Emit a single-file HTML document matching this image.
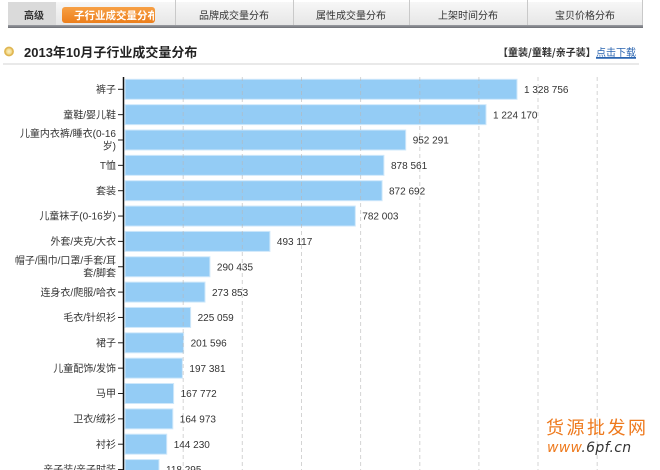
<!DOCTYPE html>
<html><head><meta charset="utf-8"><style>
html,body{margin:0;padding:0;background:#fff;}
body{width:660px;height:470px;overflow:hidden;position:relative;font-family:"Liberation Sans","Noto Sans CJK SC",sans-serif;}
svg{position:absolute;left:0;top:0;}
</style></head><body>
<svg width="660" height="470" viewBox="0 0 660 470" xmlns="http://www.w3.org/2000/svg" font-family="Liberation Sans, Noto Sans CJK SC, sans-serif">
<defs>
<linearGradient id="tabbg" x1="0" y1="0" x2="0" y2="1">
<stop offset="0" stop-color="#f7f7f7"/><stop offset="1" stop-color="#e6e6e6"/>
</linearGradient>
<linearGradient id="tabbot" x1="0" y1="0" x2="0" y2="1">
<stop offset="0" stop-color="#9a9ca2"/><stop offset="1" stop-color="#6d6f75"/>
</linearGradient>
<linearGradient id="orng" x1="0" y1="0" x2="0" y2="1">
<stop offset="0" stop-color="#f7a045"/><stop offset="1" stop-color="#ec7f1c"/>
</linearGradient>
<radialGradient id="dot" cx="0.5" cy="0.5" r="0.5">
<stop offset="0" stop-color="#fbf0c8"/><stop offset="0.5" stop-color="#f3dc90"/><stop offset="0.8" stop-color="#dcae45"/><stop offset="1" stop-color="#e8c978"/>
</radialGradient>
</defs>
<!-- Tab bar -->
<rect x="8" y="2" width="635" height="23" fill="url(#tabbg)"/>
<rect x="8" y="2" width="48" height="23" fill="#dadada"/>
<rect x="8" y="25" width="635" height="3" fill="url(#tabbot)"/>
<g stroke="#c9c9c9" stroke-width="1">
<line x1="175.5" y1="0" x2="175.5" y2="25"/>
<line x1="293.5" y1="0" x2="293.5" y2="25"/>
<line x1="409.5" y1="0" x2="409.5" y2="25"/>
<line x1="527.5" y1="0" x2="527.5" y2="25"/>
<line x1="642.5" y1="0" x2="642.5" y2="25"/>
</g>
<text x="24" y="19" font-size="10" fill="#333" font-weight="bold" font-family="Noto Sans CJK SC, sans-serif">高级</text>
<rect x="62" y="7" width="93" height="16" rx="3" fill="url(#orng)"/>
<svg x="62" y="7" width="92" height="16"><text x="12" y="12" font-size="10.5" fill="#fff" font-weight="bold" font-family="Noto Sans CJK SC, sans-serif">子行业成交量分布</text></svg>
<g font-size="10" fill="#333" text-anchor="middle" font-family="Noto Sans CJK SC, sans-serif">
<text x="234" y="19">品牌成交量分布</text>
<text x="351" y="19">属性成交量分布</text>
<text x="468" y="19">上架时间分布</text>
<text x="585" y="19">宝贝价格分布</text>
</g>
<!-- Title -->
<circle cx="9" cy="51.5" r="5" fill="url(#dot)"/>
<text x="24" y="57" font-size="13" font-weight="bold" fill="#222" font-family="Liberation Sans, Noto Sans CJK SC, sans-serif">2013年10月子行业成交量分布</text>
<text x="498" y="56" font-size="10" fill="#333" font-weight="bold" font-family="Noto Sans CJK SC, sans-serif">【童装/童鞋/亲子装】</text>
<text x="596" y="56" font-size="10" fill="#2a64b0" font-family="Noto Sans CJK SC, sans-serif" text-decoration="underline">点击下载</text>
<line x1="596" y1="58.5" x2="636" y2="58.5" stroke="#2a64b0" stroke-width="0.8"/>
<line x1="3" y1="64" x2="639" y2="64" stroke="#dcdcdc" stroke-width="1.2"/>
<!-- Bars -->
<g fill="#94ccf5" stroke="#cfe8fb" stroke-width="1">
<rect x="125" y="79.3" width="392" height="20"/>
<rect x="125" y="104.65" width="361" height="20"/>
<rect x="125" y="130" width="280.7" height="20"/>
<rect x="125" y="155.35" width="258.9" height="20"/>
<rect x="125" y="180.7" width="257.1" height="20"/>
<rect x="125" y="206.05" width="230.3" height="20"/>
<rect x="125" y="231.4" width="144.9" height="20"/>
<rect x="125" y="256.75" width="84.9" height="20"/>
<rect x="125" y="282.1" width="80" height="20"/>
<rect x="125" y="307.45" width="65.6" height="20"/>
<rect x="125" y="332.8" width="58.6" height="20"/>
<rect x="125" y="358.15" width="57.4" height="20"/>
<rect x="125" y="383.5" width="48.6" height="20"/>
<rect x="125" y="408.85" width="47.8" height="20"/>
<rect x="125" y="434.2" width="41.7" height="20"/>
<rect x="125" y="459.55" width="34" height="20"/>
</g>
<!-- Gridlines -->
<g stroke="#b8b8b8" stroke-width="1" stroke-dasharray="4,3" opacity="0.6">
<line x1="183.2" y1="77" x2="183.2" y2="470"/>
<line x1="242.3" y1="77" x2="242.3" y2="470"/>
<line x1="301.5" y1="77" x2="301.5" y2="470"/>
<line x1="360.6" y1="77" x2="360.6" y2="470"/>
<line x1="419.8" y1="77" x2="419.8" y2="470"/>
<line x1="478.9" y1="77" x2="478.9" y2="470"/>
<line x1="538" y1="77" x2="538" y2="470"/>
<line x1="597.2" y1="77" x2="597.2" y2="470"/>
</g>
<!-- Axis -->
<line x1="123.5" y1="77" x2="123.5" y2="470" stroke="#111" stroke-width="1.5"/>
<g stroke="#222" stroke-width="1">
<line x1="118" y1="89.3" x2="123" y2="89.3"/>
<line x1="118" y1="114.65" x2="123" y2="114.65"/>
<line x1="118" y1="140" x2="123" y2="140"/>
<line x1="118" y1="165.35" x2="123" y2="165.35"/>
<line x1="118" y1="190.7" x2="123" y2="190.7"/>
<line x1="118" y1="216.05" x2="123" y2="216.05"/>
<line x1="118" y1="241.4" x2="123" y2="241.4"/>
<line x1="118" y1="266.75" x2="123" y2="266.75"/>
<line x1="118" y1="292.1" x2="123" y2="292.1"/>
<line x1="118" y1="317.45" x2="123" y2="317.45"/>
<line x1="118" y1="342.8" x2="123" y2="342.8"/>
<line x1="118" y1="368.15" x2="123" y2="368.15"/>
<line x1="118" y1="393.5" x2="123" y2="393.5"/>
<line x1="118" y1="418.85" x2="123" y2="418.85"/>
<line x1="118" y1="444.2" x2="123" y2="444.2"/>
<line x1="118" y1="469.55" x2="123" y2="469.55"/>
</g>
<!-- Category labels -->
<g font-size="10" fill="#333" text-anchor="end" font-family="Liberation Sans, Noto Sans CJK SC, sans-serif">
<text x="116" y="93">裤子</text>
<text x="116" y="118.3">童鞋/婴儿鞋</text>
<text x="116" y="137">儿童内衣裤/睡衣(0-16</text>
<text x="116" y="149.5">岁)</text>
<text x="116" y="169">T恤</text>
<text x="116" y="194.4">套装</text>
<text x="116" y="219.7">儿童袜子(0-16岁)</text>
<text x="116" y="245">外套/夹克/大衣</text>
<text x="116" y="264">帽子/围巾/口罩/手套/耳</text>
<text x="116" y="276.5">套/脚套</text>
<text x="116" y="295.8">连身衣/爬服/哈衣</text>
<text x="116" y="321.1">毛衣/针织衫</text>
<text x="116" y="346.5">裙子</text>
<text x="116" y="371.8">儿童配饰/发饰</text>
<text x="116" y="397.2">马甲</text>
<text x="116" y="422.5">卫衣/绒衫</text>
<text x="116" y="447.9">衬衫</text>
<text x="116" y="473.2">亲子装/亲子时装</text>
</g>
<!-- Value labels -->
<g font-size="10" fill="#333" font-family="Liberation Sans, sans-serif">
<text x="524" y="93">1 328 756</text>
<text x="493" y="118.3">1 224 170</text>
<text x="412.7" y="143.7">952 291</text>
<text x="391" y="169">878 561</text>
<text x="389" y="194.4">872 692</text>
<text x="362.3" y="219.7">782 003</text>
<text x="276.9" y="245">493 117</text>
<text x="216.9" y="270.4">290 435</text>
<text x="212" y="295.8">273 853</text>
<text x="197.6" y="321.1">225 059</text>
<text x="190.6" y="346.5">201 596</text>
<text x="189.4" y="371.8">197 381</text>
<text x="180.6" y="397.2">167 772</text>
<text x="179.8" y="422.5">164 973</text>
<text x="173.7" y="447.9">144 230</text>
<text x="166" y="473.2">118 295</text>
</g>
<!-- Watermark -->
<text x="546" y="434" font-size="18" fill="#ee7a1e" letter-spacing="2.5" font-family="Noto Sans CJK SC, sans-serif">货源批发网</text>
<text x="547" y="452" font-size="14" fill="#ee7a1e" font-style="italic" font-family="DejaVu Sans, sans-serif" letter-spacing="0.3">www<tspan fill="#333">.6pf.cn</tspan></text>
</svg>
</body></html>
